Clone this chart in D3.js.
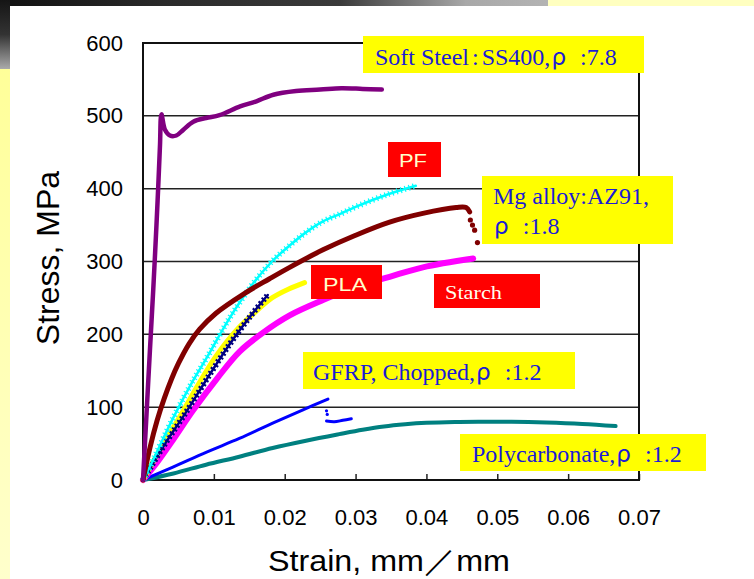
<!DOCTYPE html>
<html>
<head>
<meta charset="utf-8">
<script src="https://cdn.jsdelivr.net/npm/d3@7"></script>
<style>
  html, body { margin: 0; padding: 0; background: #fff; }
  svg { display: block; }
</style>
</head>
<body>
<svg id="chart" width="754" height="579"></svg>
<script>
// Stress-strain curves, [strain (mm/mm), stress (MPa)]
const softSteel = [[0,0],[0.0005,91],[0.00075,137],[0.0011,200],[0.00145,262],[0.0019,350],[0.00215,403],[0.0024,460],[0.0026,502],[0.0031,481],[0.0038,473],[0.0047,473],[0.0057,481],[0.0071,492],[0.0089,497],[0.0108,501],[0.0137,513],[0.016,520],[0.0184,529],[0.0216,534],[0.025,536],[0.028,538],[0.031,537],[0.0337,536]];
const pf = [[0,0],[0.001,19],[0.0043,86],[0.0071,137],[0.009,168],[0.0122,222],[0.0154,268],[0.0182,300],[0.0207,322],[0.023,340],[0.0254,355],[0.028,366],[0.030,375],[0.0345,392],[0.0385,404]];
const mgAlloy = [[0,0],[0.001,45],[0.002,82],[0.003,112],[0.004,138],[0.005,160],[0.0065,187],[0.008,207],[0.0103,229],[0.0143,256],[0.0178,276],[0.0207,292],[0.0254,316],[0.030,336],[0.0348,354],[0.0395,366],[0.0442,374],[0.0456,374],[0.0461,368]];
const mgAlloyTail = [[0.0462,357],[0.0465,350],[0.0468,343],[0.0472,326]];
const pla = [[0,0],[0.0026,45],[0.0052,87],[0.0078,131],[0.0103,170],[0.0136,210],[0.016,232],[0.0182,250],[0.0205,262],[0.0228,271]];
const pfTriangles = [[0,0],[0.003,48],[0.0062,95],[0.0089,137],[0.0122,186],[0.015,223],[0.0176,254]];
const starch = [[0,0],[0.0019,23],[0.0043,56],[0.0071,96],[0.0105,140],[0.0136,176],[0.0169,202],[0.0207,226],[0.0254,247],[0.030,265],[0.0348,279],[0.0395,292],[0.0466,304]];
const gfrp = [[0,0],[0.0043,18],[0.0089,38],[0.0136,57],[0.0183,78],[0.0225,96],[0.0261,111]];
const gfrpTailDots = [[0.0259,95],[0.026,90]];
const gfrpTail = [[0.0259,81],[0.027,80],[0.0282,82],[0.0294,84]];
const polycarbonate = [[0,0],[0.0043,9],[0.0089,21],[0.0136,32],[0.0183,44],[0.023,54],[0.0277,63],[0.031,69],[0.034,73.5],[0.037,76.5],[0.040,78.5],[0.044,79.7],[0.048,80],[0.052,80],[0.0569,79],[0.062,77],[0.0667,74]];

// Axis ticks
const xTicks = [0,0.01,0.02,0.03,0.04,0.05,0.06,0.07];
const xTickLabels = ["0","0.01","0.02","0.03","0.04","0.05","0.06","0.07"];
const yTicks = [0,100,200,300,400,500,600];
const yTickLabels = ["0","100","200","300","400","500","600"];

const svg = d3.select("#chart");

// Page backdrop: dark band at top, yellow strip down the left side
const defs = svg.append("defs");
const topGrad = defs.append("linearGradient").attr("id","topBand").attr("x1","0").attr("x2","1").attr("y1","0").attr("y2","0");
[[0,"#111"],[0.3,"#2a2a2a"],[0.62,"#3a3a3a"],[0.85,"#a8a8a8"],[1,"#b3b3b3"]].forEach(s => topGrad.append("stop").attr("offset", s[0]).attr("stop-color", s[1]));
const leftDark = defs.append("linearGradient").attr("id","leftDark").attr("x1","0").attr("x2","0").attr("y1","0").attr("y2","1");
[[0,"#151515"],[0.5,"#333"],[1,"#aaa"]].forEach(s => leftDark.append("stop").attr("offset", s[0]).attr("stop-color", s[1]));
const leftYellow = defs.append("linearGradient").attr("id","leftYellow").attr("x1","0").attr("x2","0").attr("y1","0").attr("y2","1");
[[0,"#ffff99"],[1,"#ffffcc"]].forEach(s => leftYellow.append("stop").attr("offset", s[0]).attr("stop-color", s[1]));

svg.append("rect").attr("x",0).attr("y",0).attr("width",548).attr("height",6).attr("fill","url(#topBand)");
svg.append("rect").attr("x",548).attr("y",0).attr("width",206).attr("height",6).attr("fill","#ffffc0");
svg.append("rect").attr("x",0).attr("y",0).attr("width",10).attr("height",69).attr("fill","url(#leftDark)");
svg.append("rect").attr("x",0).attr("y",69).attr("width",10).attr("height",510).attr("fill","url(#leftYellow)");
svg.append("rect").attr("x",10).attr("y",6).attr("width",744).attr("height",573).attr("fill","#fff");

const x = d3.scaleLinear().domain([0, 0.07]).range([143, 639]);
const y = d3.scaleLinear().domain([0, 600]).range([480, 43]);

// Gridlines
svg.append("g").selectAll("line").data(yTicks.filter(v => v > 0 && v < 600)).join("line")
  .attr("x1", x(0)).attr("x2", x(0.07))
  .attr("y1", d => y(d)).attr("y2", d => y(d))
  .attr("stroke", "#222").attr("stroke-width", 1.5);

// Axes
const xAxis = svg.append("g").attr("transform", `translate(0,${y(0)})`)
  .call(d3.axisBottom(x).tickValues(xTicks).tickSize(-6).tickPadding(29)
    .tickFormat((d, i) => xTickLabels[i]));
const yAxis = svg.append("g").attr("transform", `translate(${x(0)},0)`)
  .call(d3.axisLeft(y).tickValues(yTicks).tickSize(0).tickPadding(20)
    .tickFormat((d, i) => yTickLabels[i]));
[xAxis, yAxis].forEach(g => {
  g.select(".domain").remove();
  g.selectAll("line").attr("stroke", "#222").attr("stroke-width", 1.5);
  g.selectAll("text").attr("fill", "#000")
    .style("font-family", "'Liberation Sans', Arial, sans-serif").style("font-size", "22px");
});

// Plot frame
svg.append("rect").attr("x", x(0)).attr("y", y(600))
  .attr("width", x(0.07) - x(0)).attr("height", y(0) - y(600))
  .attr("fill", "none").attr("stroke", "#111").attr("stroke-width", 2);

// Axis titles
svg.append("text").attr("x", 268).attr("y", 571)
  .attr("textLength", 242).attr("lengthAdjust", "spacingAndGlyphs")
  .style("font-family", "'Liberation Sans', Arial, sans-serif").style("font-size", "30px")
  .text("Strain, mm／mm");
svg.append("text").attr("transform", "translate(59,258) rotate(-90)").attr("text-anchor", "middle")
  .style("font-family", "'Liberation Sans', Arial, sans-serif").style("font-size", "32px")
  .text("Stress, MPa");

// Curves
const line = d3.line().x(d => x(d[0])).y(d => y(d[1])).curve(d3.curveCatmullRom.alpha(0.5));
const curves = svg.append("g").attr("fill", "none").attr("stroke-linecap", "round").attr("stroke-linejoin", "round");

function drawCurve(data, color, width) {
  return curves.append("path").datum(data).attr("d", line).attr("stroke", color).attr("stroke-width", width);
}

drawCurve(polycarbonate, "#008080", 4);
drawCurve(gfrp, "#0000ff", 3);
drawCurve(gfrpTail, "#0000ff", 3);
curves.append("g").selectAll("circle").data(gfrpTailDots).join("circle")
  .attr("cx", d => x(d[0])).attr("cy", d => y(d[1])).attr("r", 1.6).attr("fill", "#0000ff").attr("stroke", "none");
drawCurve(starch, "#ff00ff", 6);
drawCurve(pla, "#ffff00", 5);
drawCurve(pfTriangles, "#000080", 2.5);
drawCurve(pfTriangles, "#000080", 6).attr("stroke-dasharray", "2,2.5").attr("stroke-linecap", "butt");
drawCurve(pf, "#00ffff", 2.5);
drawCurve(pf, "#00ffff", 6).attr("stroke-dasharray", "1.2,3").attr("stroke-linecap", "butt");
drawCurve(mgAlloy, "#800000", 5);
curves.append("g").selectAll("circle").data(mgAlloyTail).join("circle")
  .attr("cx", d => x(d[0])).attr("cy", d => y(d[1])).attr("r", 2.6).attr("fill", "#800000").attr("stroke", "none");
drawCurve(softSteel, "#800080", 4.5);

// Callout labels
const serif = "'Liberation Serif', 'Times New Roman', serif";
const sans = "'Liberation Sans', Arial, sans-serif";
const rho = "'Noto Sans CJK JP', 'DejaVu Sans', sans-serif";
const blue = "#1c1cd6";

function box(x0, y0, w, h, fill) {
  svg.append("rect").attr("x", x0).attr("y", y0).attr("width", w).attr("height", h).attr("fill", fill);
}
// parts: [text, font, dx]
function richText(x0, yb, parts, size, color) {
  const t = svg.append("text").attr("x", x0).attr("y", yb).attr("fill", color).style("font-size", size + "px");
  parts.forEach(p => t.append("tspan").style("font-family", p[1]).attr("dx", p[2] || 0).text(p[0]));
  return t;
}

box(363, 36, 281, 37, "#ffff00");
richText(375, 65, [["Soft Steel", serif], [":", serif, 3], ["SS400,", serif, 3], ["ρ", rho, 1], [":7.8", serif, 14]], 24, blue);

box(482, 176, 191, 68, "#ffff00");
richText(493, 204, [["Mg alloy:AZ91,", serif]], 24, blue);
richText(494, 234, [["ρ", rho], [":1.8", serif, 14]], 24, blue);

box(303, 352, 272, 37, "#ffff00");
richText(313, 380, [["GFRP, Chopped,", serif], ["ρ", rho, 1], [":1.2", serif, 14]], 24, blue);

box(460, 434, 246, 37, "#ffff00");
richText(472, 462, [["Polycarbonate,", serif], ["ρ", rho, 1], [":1.2", serif, 14]], 24, blue);

box(388, 142, 53, 35, "#ff0000");
svg.append("text").attr("x", 399).attr("y", 167).attr("fill", "#ffffcc")
  .attr("textLength", 28).attr("lengthAdjust", "spacingAndGlyphs")
  .style("font-family", sans).style("font-size", "18px").text("PF");

box(311, 265, 71, 34, "#ff0000");
svg.append("text").attr("x", 323).attr("y", 291).attr("fill", "#ffffcc")
  .attr("textLength", 44).attr("lengthAdjust", "spacingAndGlyphs")
  .style("font-family", sans).style("font-size", "18px").text("PLA");

box(434, 274, 106, 34, "#ff0000");
svg.append("text").attr("x", 445).attr("y", 299).attr("fill", "#ffffee")
  .attr("textLength", 57).attr("lengthAdjust", "spacingAndGlyphs")
  .style("font-family", serif).style("font-size", "19px").text("Starch");
</script>
</body>
</html>
